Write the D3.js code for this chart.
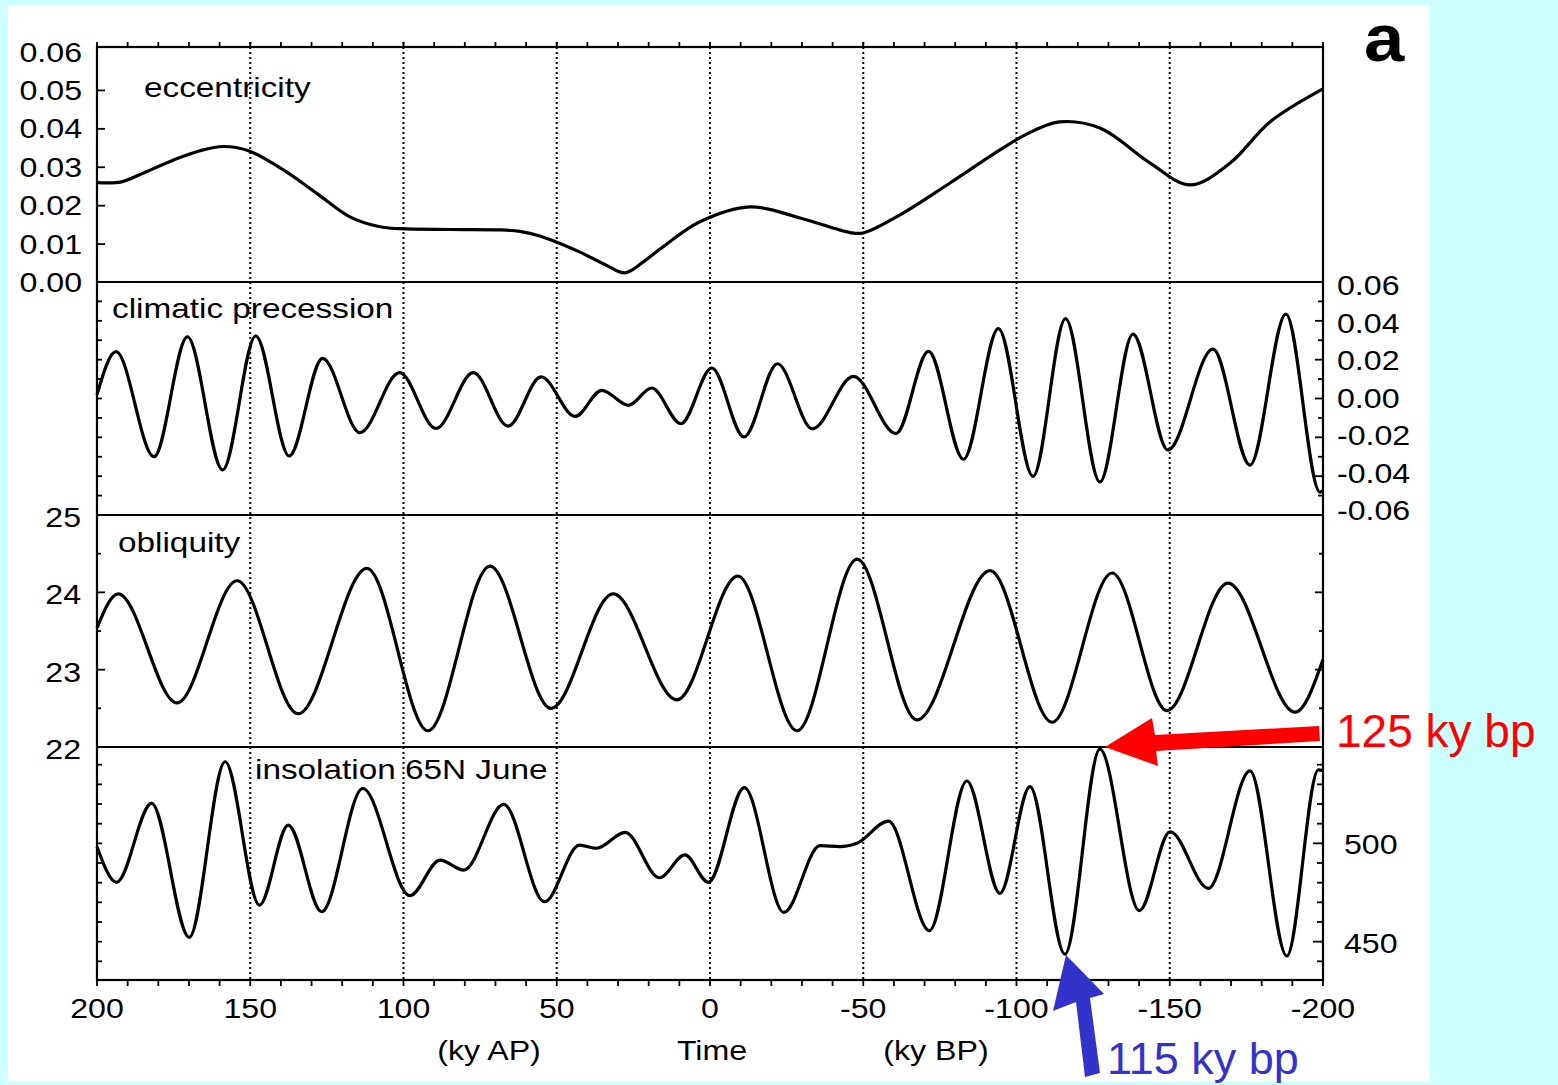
<!DOCTYPE html>
<html><head><meta charset="utf-8">
<script src="https://cdn.jsdelivr.net/npm/d3@7"></script>
<style>body{margin:0;background:#ccffff;} svg{display:block}</style>
</head><body>
<svg id="c" width="1558" height="1085"></svg>
<script>
// ---------------- data ----------------
const xTickValues = [200,150,100,50,0,-50,-100,-150,-200];
const xTickLabels = ["200","150","100","50","0","-50","-100","-150","-200"];
const eccTickValues = [0,0.01,0.02,0.03,0.04,0.05,0.06];
const eccTickLabels = ["0.00","0.01","0.02","0.03","0.04","0.05","0.06"];
const preTickValues = [0.06,0.04,0.02,0,-0.02,-0.04,-0.06];
const preTickLabels = ["0.06","0.04","0.02","0.00","-0.02","-0.04","-0.06"];
const oblTickValues = [25,24,23,22];
const oblTickLabels = ["25","24","23","22"];
const insTickValues = [500,450];
const insTickLabels = ["500","450"];

// [time ky (positive = after present), value]
const eccentricity = [[200,0.0260],[192,0.0262],[186,0.0281],[175,0.0319],[166.4,0.0343],[158.8,0.0354],[150.6,0.0343],[139.2,0.0293],[128.3,0.0232],[117.5,0.0171],[107.7,0.0145],[101.2,0.0140],[84.8,0.0138],[68.5,0.0137],[62,0.0133],[55.5,0.0121],[42.4,0.0079],[34.3,0.0047],[27.7,0.0025],[21.2,0.0057],[16.3,0.0087],[3.3,0.0158],[-13,0.0197],[-29.4,0.0168],[-45.7,0.0130],[-50,0.0129],[-62,0.0176],[-78.3,0.0259],[-94.6,0.0345],[-103,0.0385],[-114,0.0418],[-127.2,0.0402],[-143.6,0.0311],[-156.6,0.0254],[-169.7,0.0311],[-182.7,0.0418],[-200,0.0504]];
const precession = [[200,0.002],[193.8,0.0241],[181.4,-0.030],[170.5,0.0318],[159.0,-0.0368],[148.2,0.0322],[137.3,-0.0296],[126.4,0.0207],[114.2,-0.0176],[101.3,0.0133],[89.4,-0.0154],[77.2,0.0133],[65.9,-0.0142],[55.1,0.0111],[44.0,-0.0092],[35.3,0.0042],[26.6,-0.0035],[19.0,0.0054],[9.5,-0.013],[-0.6,0.0157],[-11.1,-0.0198],[-22.0,0.0179],[-33.4,-0.0156],[-46.8,0.0114],[-60.7,-0.0181],[-71.3,0.0243],[-82.7,-0.0313],[-94.1,0.036],[-105.4,-0.0401],[-116.0,0.0411],[-127.2,-0.043],[-138,0.0332],[-149.4,-0.0265],[-164.1,0.0255],[-176.2,-0.0343],[-187.9,0.0435],[-199,-0.0482],[-200,-0.0475]];
const obliquity = [[200,23.54],[193.1,23.98],[173.9,22.57],[154.3,24.15],[134.4,22.43],[111.9,24.31],[92.0,22.21],[71.8,24.34],[51.9,22.50],[31.6,23.98],[10.8,22.61],[-9.1,24.21],[-28.4,22.21],[-48.0,24.43],[-67.5,22.35],[-91.4,24.28],[-111.6,22.32],[-131.2,24.25],[-149.1,22.47],[-169.0,24.12],[-190.9,22.45],[-200,23.13]];
const insolation = [[200,498.3],[193.6,480.2],[182.2,520.3],[169.9,452.2],[158.2,541.5],[147.0,468.6],[137.6,509.3],[126.7,465.2],[113.3,527.9],[97.9,473.4],[88.1,491.5],[80.3,486.4],[67.3,519.8],[54.0,470.3],[42.6,499.1],[37.0,497.5],[27.7,505.6],[16.5,482.5],[8.2,494.1],[0.55,480.2],[-11.2,528.3],[-24.1,464.9],[-35.9,498.8],[-42.4,498.3],[-47.9,500],[-58.2,511.3],[-71.6,455.6],[-83.8,531.7],[-94.6,474.6],[-104.4,528.8],[-115.8,443.6],[-127.2,547.9],[-140.1,465.8],[-150.1,505.9],[-162.6,477.1],[-176.2,536.9],[-188.2,442.7],[-198.5,537.4],[-200,537]];

const panelLabels = ["eccentricity","climatic precession","obliquity","insolation 65N June"];
const axisTitles = ["(ky AP)","Time","(ky BP)"];
const annotations = ["125 ky bp","115 ky bp"];

// ---------------- layout ----------------
const L=97, R=1323, T=47, B=980;
const P1=282, P2=515, P3=747;
const FONT = "'Liberation Sans', Arial, sans-serif";
const SX = 1.19;

const svg = d3.select("#c");
svg.append("rect").attr("x",8).attr("y",5).attr("width",1422).attr("height",1077).attr("fill","#fff");

const x = d3.scaleLinear([200,-200],[L,R]);
const yEcc = d3.scaleLinear([0,0.06],[282.5,52]);
const yPre = d3.scaleLinear([-0.06,0.06],[P2,P1]);
const yPreLab = d3.scaleLinear([-0.06,0.06],[510,285]);
const yObl = d3.scaleLinear([22,25],[P3,P2]);
const yIns = d3.scaleLinear([430.5,549],[B,P3]);

function txt(px, py, s, o={}) {
  return svg.append("text")
    .attr("transform", `translate(${px},${py}) scale(${o.sx ?? SX},1)`)
    .attr("text-anchor", o.anchor || "start")
    .attr("font-family", FONT)
    .attr("font-size", o.size || 27)
    .attr("font-weight", o.weight || "normal")
    .attr("fill", o.fill || "#000")
    .text(s);
}

// dotted grid lines
const grid = [150,100,50,0,-50,-100,-150];
svg.append("g").selectAll("line").data(grid).join("line")
  .attr("x1",d=>x(d)).attr("x2",d=>x(d)).attr("y1",T-5).attr("y2",B)
  .attr("stroke","#000").attr("stroke-width",2).attr("stroke-dasharray","2,3");

// top & bottom minor ticks
const xMinor = d3.range(-200,201,10);
svg.append("g").selectAll("line").data(xMinor).join("line")
  .attr("x1",d=>x(d)).attr("x2",d=>x(d)).attr("y1",T-5).attr("y2",T)
  .attr("stroke","#000").attr("stroke-width",1.8);
svg.append("g").selectAll("line").data(xMinor).join("line")
  .attr("x1",d=>x(d)).attr("x2",d=>x(d)).attr("y1",B).attr("y2",B+6)
  .attr("stroke","#000").attr("stroke-width",1.8);

// y ticks helper
function yticks(scale, vals, side, len) {
  svg.append("g").selectAll("line").data(vals).join("line")
    .attr("x1", side==="L"?L:R).attr("x2", side==="L"?L+len:R-len)
    .attr("y1", d=>scale(d)).attr("y2", d=>scale(d))
    .attr("stroke","#000").attr("stroke-width",1.8);
}
yticks(yEcc,[0.01,0.02,0.03,0.04,0.05],"L",8);
yticks(yPre,d3.range(-0.05,0.051,0.01),"L",5);
yticks(yPre,[-0.04,-0.02,0,0.02,0.04],"R",8);
yticks(yPre,[-0.05,-0.03,-0.01,0.01,0.03,0.05],"R",5);
yticks(yObl,[23,24],"L",8);
yticks(yObl,[22.5,23.5,24.5],"L",4);
yticks(yObl,[23,24],"R",8);
yticks(yObl,[22.5,23.5,24.5],"R",4);
yticks(yIns,d3.range(440,541,10),"L",5);
yticks(yIns,[450,500],"R",10);
yticks(yIns,[440,460,470,480,490,510,520,530,540],"R",6);

// frame and dividers
svg.append("rect").attr("x",L).attr("y",T).attr("width",R-L).attr("height",B-T)
  .attr("fill","none").attr("stroke","#000").attr("stroke-width",2.2);
[P1,P2,P3].forEach(py=>svg.append("line").attr("x1",L).attr("x2",R).attr("y1",py).attr("y2",py)
  .attr("stroke","#000").attr("stroke-width",2));

// curves
const line = (ys, curve) => d3.line().x(d=>x(d[0])).y(d=>ys(d[1])).curve(curve);
[[eccentricity,yEcc,d3.curveCatmullRom.alpha(0.5)],[precession,yPre,d3.curveMonotoneX],[obliquity,yObl,d3.curveMonotoneX],[insolation,yIns,d3.curveMonotoneX]].forEach(([data,ys,cv])=>{
  svg.append("path").datum(data).attr("d",line(ys,cv))
    .attr("fill","none").attr("stroke","#000").attr("stroke-width",3.2).attr("stroke-linejoin","round");
});

// tick labels
eccTickValues.forEach((v,i)=>txt(82, yEcc(v)+9.5, eccTickLabels[i], {anchor:"end"}));
preTickValues.forEach((v,i)=>txt(1337, yPreLab(v)+10, preTickLabels[i]));
oblTickValues.forEach((v,i)=>txt(81, yObl(v)+12, oblTickLabels[i], {anchor:"end"}));
insTickValues.forEach((v,i)=>txt(1344, yIns(v)+11, insTickLabels[i]));
xTickValues.forEach((v,i)=>txt(x(v), 1018, xTickLabels[i], {anchor:"middle"}));

// axis titles
txt(489, 1060, axisTitles[0], {anchor:"middle"});
txt(712, 1060, axisTitles[1], {anchor:"middle"});
txt(936, 1060, axisTitles[2], {anchor:"middle"});

// panel labels
txt(144, 97, panelLabels[0], {size:28});
txt(112, 318, panelLabels[1], {size:28});
txt(118, 552, panelLabels[2], {size:28});
txt(255, 779, panelLabels[3], {size:28});

// panel letter
txt(1384, 61, "a", {size:67, weight:"bold", anchor:"middle", sx:1.08});

// annotation arrows
const arrowRed = [[1105,747],[1152,718],[1155,735],[1319,726],[1320,741],[1156,751],[1158,766]];
svg.append("path").attr("d", d3.line()(arrowRed)+"Z").attr("fill","#ff0000");
const arrowBlue = [[1066,955],[1104,994],[1090,998],[1100,1073],[1085,1077],[1076,1002],[1053,1011]];
svg.append("path").attr("d", d3.line()(arrowBlue)+"Z").attr("fill","#3333cc");

txt(1336, 747, annotations[0], {size:46, fill:"#ff0000", sx:1});
txt(1107, 1074, annotations[1], {size:45, fill:"#3333cc", sx:1});
</script>
</body></html>
